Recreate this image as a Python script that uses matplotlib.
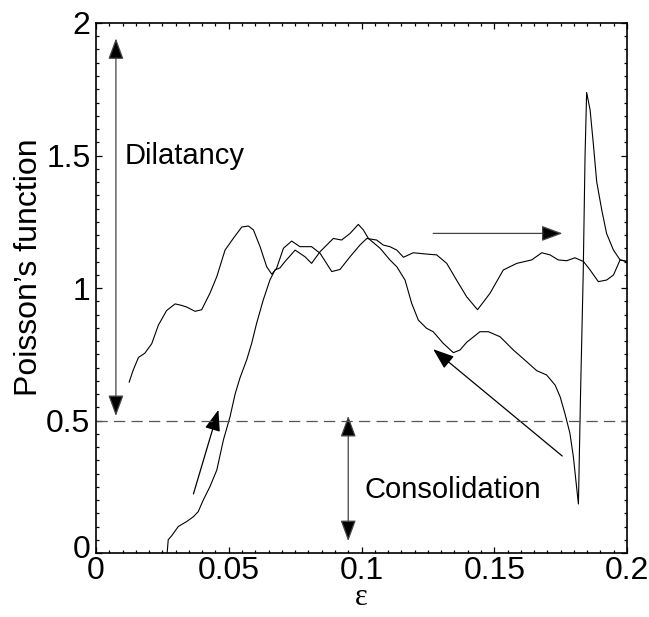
import matplotlib
matplotlib.use("Agg")
import matplotlib.pyplot as plt
import matplotlib.transforms as mtransforms
from matplotlib.ticker import MultipleLocator, FixedLocator
from matplotlib.patches import FancyArrowPatch

plt.rcParams['font.family'] = ['Liberation Sans', 'DejaVu Sans']

# ---- data ----
eps_a = [0.0125, 0.014, 0.016, 0.0184, 0.021, 0.0235, 0.0266, 0.0298, 0.032, 0.0342,
         0.0373, 0.0398, 0.0429, 0.0455, 0.0486, 0.0517, 0.0549, 0.0574, 0.0593, 0.0618,
         0.0643, 0.0662, 0.068, 0.0706, 0.0737, 0.0768, 0.0812, 0.0844, 0.0888, 0.0919,
         0.0957, 0.0994, 0.102, 0.1057, 0.1082, 0.1107, 0.1133, 0.1158, 0.1195, 0.1245,
         0.1283, 0.1321, 0.1358, 0.1396, 0.1437, 0.1484, 0.1534, 0.1585, 0.1641, 0.1679,
         0.171, 0.1741, 0.1773, 0.1804, 0.1836, 0.1861, 0.1892, 0.1923, 0.1949, 0.1974, 0.2]
nu_a = [0.645, 0.69, 0.738, 0.754, 0.79, 0.86, 0.915, 0.94, 0.935, 0.928,
        0.912, 0.918, 0.98, 1.043, 1.143, 1.187, 1.23, 1.234, 1.219, 1.156,
        1.08, 1.052, 1.074, 1.15, 1.177, 1.156, 1.156, 1.131, 1.062, 1.07,
        1.118, 1.162, 1.187, 1.181, 1.162, 1.156, 1.143, 1.116, 1.133, 1.128,
        1.125, 1.093, 1.03, 0.967, 0.918, 0.98, 1.068, 1.093, 1.106, 1.133,
        1.125, 1.106, 1.103, 1.114, 1.1, 1.068, 1.024, 1.03, 1.049, 1.106, 1.10]

eps_b = [0.0268, 0.0272, 0.0285, 0.031, 0.0342, 0.0367, 0.0385, 0.0404, 0.0429, 0.0455,
         0.048, 0.0505, 0.0524, 0.0542, 0.0568, 0.0586, 0.0605, 0.063, 0.0655, 0.0674,
         0.0693, 0.0712, 0.075, 0.0787, 0.0812, 0.0844, 0.0894, 0.0925, 0.0957, 0.0988,
         0.1007, 0.1026, 0.107, 0.1107, 0.1133, 0.1164, 0.1189, 0.1214, 0.1245, 0.127,
         0.1308, 0.1346, 0.1371, 0.1396, 0.1446, 0.1478, 0.1522, 0.1572, 0.1622, 0.166,
         0.1697, 0.1729, 0.1748, 0.1766, 0.1785, 0.1798, 0.181, 0.1817, 0.1825, 0.1835,
         0.1842, 0.1848, 0.1861, 0.1873, 0.1886, 0.1905, 0.1923, 0.1949, 0.1974, 0.2]
nu_b = [0.0, 0.05, 0.065, 0.1, 0.119, 0.137, 0.156, 0.2, 0.25, 0.313,
        0.427, 0.515, 0.6, 0.66, 0.73, 0.79, 0.867, 0.955, 1.03, 1.068,
        1.076, 1.1, 1.143, 1.118, 1.093, 1.137, 1.187, 1.181, 1.206, 1.24,
        1.219, 1.187, 1.15, 1.106, 1.08, 1.03, 0.942, 0.879, 0.848, 0.835,
        0.791, 0.756, 0.766, 0.795, 0.835, 0.835, 0.816, 0.766, 0.722, 0.688,
        0.672, 0.634, 0.59, 0.527, 0.452, 0.363, 0.25, 0.185, 0.6, 1.05,
        1.5, 1.738, 1.672, 1.546, 1.4, 1.294, 1.206, 1.143, 1.106, 1.10]

threshold = 0.5
x_ticks = [0, 0.05, 0.1, 0.15, 0.2]
x_tick_labels = ['0', '0.05', '0.1', '0.15', '0.2']
y_ticks = [0, 0.5, 1, 1.5, 2]
y_tick_labels = ['0', '0.5', '1', '1.5', '2']

# ---- figure ----
fig = plt.figure(figsize=(6.49, 6.17), dpi=100)
ax = fig.add_axes([96/649, 64/617, 531/649, 530/617])

ax.plot(eps_a, nu_a, color='black', lw=0.8)
ax.plot(eps_b, nu_b, color='black', lw=0.8)
ax.axhline(threshold, color='#555555', lw=0.9, linestyle=(0, (9, 5)))

ax.set_xlim(0, 0.2)
ax.set_ylim(0, 2)
ax.xaxis.set_major_locator(FixedLocator(x_ticks))
ax.set_xticklabels(x_tick_labels)
ax.yaxis.set_major_locator(FixedLocator(y_ticks))
ax.set_yticklabels(y_tick_labels)
ax.xaxis.set_minor_locator(MultipleLocator(0.005))
ax.yaxis.set_minor_locator(MultipleLocator(0.05))
ax.tick_params(which='both', direction='in', top=True, right=True, width=0.9, labelsize=23)
ax.tick_params(which='major', length=4.5, pad=4)
ax.tick_params(axis='x', which='major', pad=2)
ax.tick_params(which='minor', length=2.4)
for s in ax.spines.values():
    s.set_linewidth(1.2)

# lift the y-axis "0" label slightly so it clears the x-axis "0"
ylab0 = ax.get_yticklabels()[0]
ylab0.set_transform(ylab0.get_transform() +
                    mtransforms.ScaledTranslation(0, 6/100, fig.dpi_scale_trans))

ax.set_xlabel('ε', fontsize=22, family='Liberation Serif', labelpad=-2)
ax.set_ylabel('Poisson’s function', fontsize=23)
ax.yaxis.set_label_coords(-0.098, 0.54)

def arrow(x0, y0, x1, y1, color='#444444', both=False):
    style = '<|-|>' if both else '-|>'
    p = FancyArrowPatch((x0, y0), (x1, y1),
                        arrowstyle=style + ',head_length=0.65,head_width=0.24',
                        mutation_scale=20, color=color, lw=0.9,
                        shrinkA=0, shrinkB=0)
    p.set_facecolor('black')
    p.set_edgecolor(color)
    ax.add_patch(p)

arrow(0.0075, 0.517, 0.0075, 1.942, both=True)
arrow(0.095, 0.045, 0.095, 0.517, both=True)
arrow(0.0367, 0.223, 0.0461, 0.54, color='black')
arrow(0.127, 1.206, 0.1757, 1.206)
arrow(0.1756, 0.366, 0.127, 0.769, color='black')

ax.text(0.0108, 1.5, 'Dilatancy', fontsize=21, va='center', ha='left')
ax.text(0.1013, 0.238, 'Consolidation', fontsize=21, va='center', ha='left')

fig.savefig('out.png', dpi=100)
